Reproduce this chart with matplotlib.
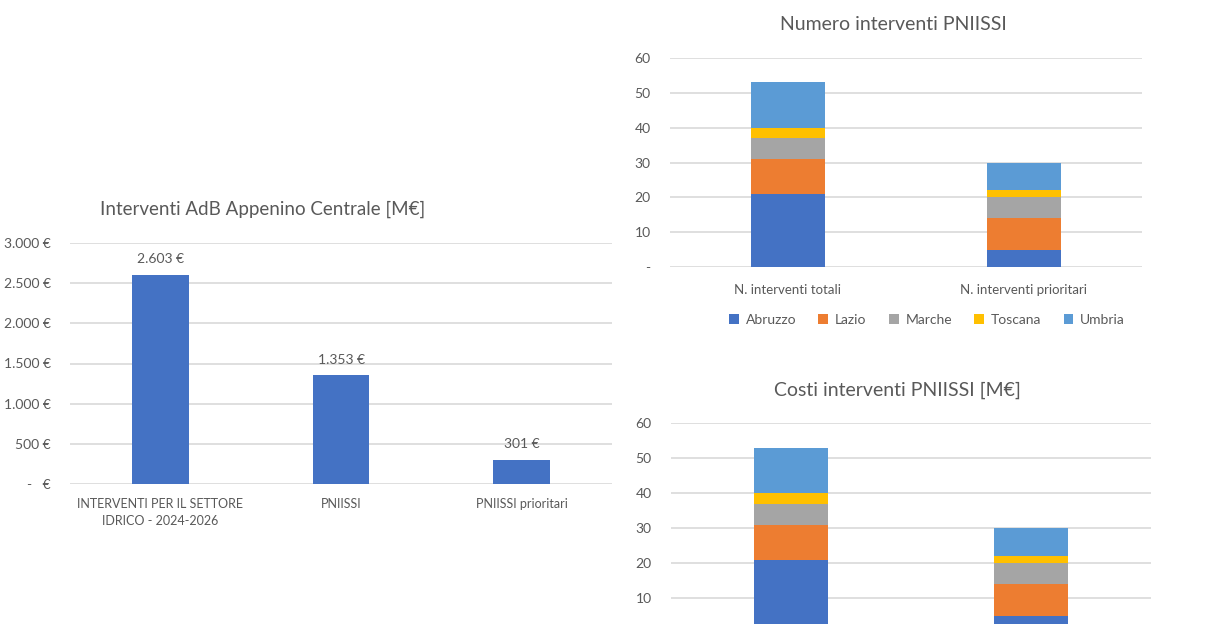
import matplotlib
matplotlib.use("Agg")
import matplotlib.pyplot as plt
import numpy as np

plt.rcParams["font.family"] = ["Lato", "DejaVu Sans"]

# left chart: totals in M€
cat_tot = ["INTERVENTI PER IL SETTORE\nIDRICO - 2024-2026", "PNIISSI", "PNIISSI prioritari"]
val_tot = [2603, 1353, 301]
yticks_tot = [0, 500, 1000, 1500, 2000, 2500, 3000]

# right charts: stacked by region
cat_pn = ["N. interventi totali", "N. interventi prioritari"]
regioni = ["Abruzzo", "Lazio", "Marche", "Toscana", "Umbria"]
abruzzo = [21, 5]
lazio = [10, 9]
marche = [6, 6]
toscana = [3, 2]
umbria = [13, 8]
# the cost chart in the picture shows the same stacks
costi_abruzzo = [21, 5]
costi_lazio = [10, 9]
costi_marche = [6, 6]
costi_toscana = [3, 2]
costi_umbria = [13, 8]
yticks_pn = [0, 10, 20, 30, 40, 50, 60]

colori = ["#4472C4", "#ED7D31", "#A5A5A5", "#FFC000", "#5B9BD5"]
TXT = "#595959"
GRID = "#D9D9D9"
W, H = 1206, 624


def eur(v):
    if v == 0:
        return "-   €"
    return f"{v:,.0f} €".replace(",", ".")


def box(x0, y_top, x1, y_bot):
    # pixel box -> figure fractions
    return [x0 / W, (H - y_bot) / H, (x1 - x0) / W, (y_bot - y_top) / H]


def style(ax):
    for s in ax.spines.values():
        s.set_visible(False)
    ax.tick_params(length=0, colors=TXT, labelsize=10)
    ax.yaxis.grid(True, color=GRID, lw=1.2)
    ax.set_axisbelow(True)


def stacked(ax, series):
    x = np.arange(len(cat_pn))
    bottom = np.zeros(len(cat_pn))
    bars = []
    for name, vals, c in zip(regioni, series, colori):
        b = ax.bar(x, vals, 0.31, bottom=bottom, color=c, label=name)
        bottom += np.array(vals)
        bars.append(b)
    ax.set_xlim(-0.5, len(cat_pn) - 0.5)
    ax.set_ylim(0, 60)
    ax.set_yticks(yticks_pn)
    ax.set_yticklabels(["-" if t == 0 else str(t) for t in yticks_pn])
    style(ax)
    return bars


fig = plt.figure(figsize=(W / 100, H / 100), dpi=100)

# ---- left
ax1 = fig.add_axes(box(70, 243, 612, 484))
x = np.arange(len(cat_tot))
ax1.bar(x, val_tot, 0.315, color="#4472C4")
for xi, v in zip(x, val_tot):
    ax1.annotate(eur(v), (xi, v), xytext=(0, 7), textcoords="offset points",
                 ha="center", va="bottom", color=TXT, fontsize=10)
ax1.set_xlim(-0.5, len(cat_tot) - 0.5)
ax1.set_ylim(0, 3000)
ax1.set_yticks(yticks_tot)
ax1.set_yticklabels([eur(t) for t in yticks_tot])
ax1.set_xticks(x)
ax1.set_xticklabels(cat_tot, fontsize=9, linespacing=1.5)
style(ax1)
ax1.tick_params(axis="x", pad=10, labelsize=9)
ax1.tick_params(axis="y", pad=14)
fig.text(263 / W, 1 - 209 / H, "Interventi AdB Appenino Centrale [M€]",
         ha="center", va="center", color=TXT, fontsize=13.5)

# ---- top right
ax2 = fig.add_axes(box(670, 58, 1142, 267))
bars = stacked(ax2, [abruzzo, lazio, marche, toscana, umbria])
ax2.set_xticks(np.arange(len(cat_pn)))
ax2.set_xticklabels(cat_pn)
ax2.tick_params(axis="x", pad=12, labelsize=9.5)
ax2.tick_params(axis="y", pad=14)
fig.text(893 / W, 1 - 24 / H, "Numero interventi PNIISSI",
         ha="center", va="center", color=TXT, fontsize=14)
fig.legend(handles=bars, labels=regioni, ncol=5, loc="center",
           bbox_to_anchor=(927 / W, 1 - 320 / H), frameon=False,
           fontsize=10, labelcolor=TXT, handlelength=0.7, handleheight=0.7,
           columnspacing=1.6, handletextpad=0.5)

# ---- bottom right (cut off at the bottom of the picture)
ax3 = fig.add_axes(box(671, 423, 1151, 633))
stacked(ax3, [costi_abruzzo, costi_lazio, costi_marche, costi_toscana, costi_umbria])
ax3.set_yticks(yticks_pn[1:])
ax3.set_yticklabels([str(t) for t in yticks_pn[1:]])
ax3.set_xticks([])
ax3.tick_params(axis="y", pad=14)
fig.text(897 / W, 1 - 390 / H, "Costi interventi PNIISSI [M€]",
         ha="center", va="center", color=TXT, fontsize=14)

fig.savefig("out.png", dpi=100)
